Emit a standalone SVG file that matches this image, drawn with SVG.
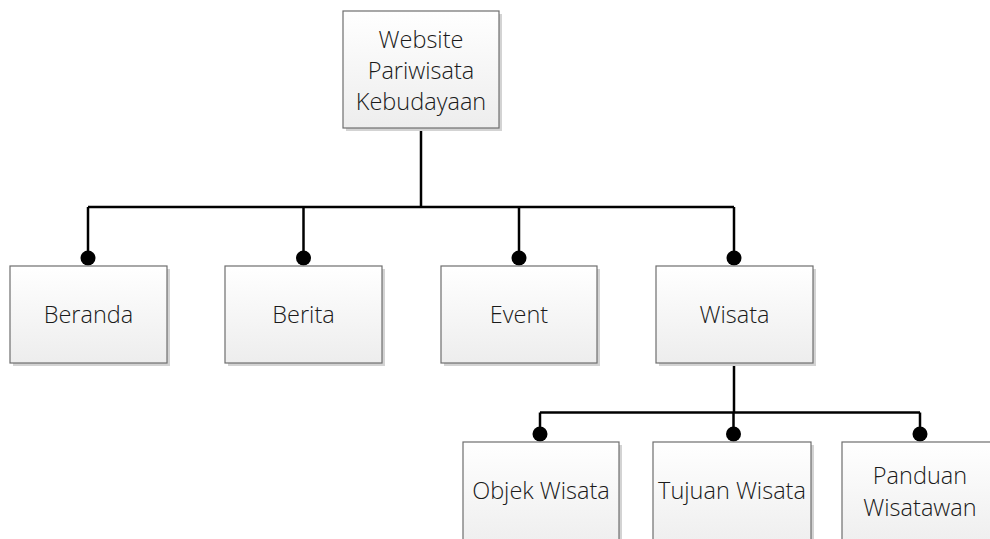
<svg xmlns="http://www.w3.org/2000/svg" width="990" height="539" viewBox="0 0 990 539">
  <defs>
    <linearGradient id="boxFill" x1="0" y1="0" x2="0" y2="1">
      <stop offset="0" stop-color="#ffffff"/>
      <stop offset="1" stop-color="#ededed"/>
    </linearGradient>
    <marker id="dot" viewBox="0 0 16 16" refX="8" refY="8" markerWidth="16" markerHeight="16" markerUnits="userSpaceOnUse">
      <circle cx="8" cy="8" r="7.5" fill="#000"/>
    </marker>
  </defs>
  <style>
    .shadow { fill: #d3d3d3; }
    .box { fill: url(#boxFill); stroke: #6e6e6e; stroke-width: 1.2; }
    .label { font-family: "Open Sans", "Liberation Sans", sans-serif; font-size: 23.5px; font-weight: 300; fill: #1a1a1a; text-anchor: middle; }
    .link { fill: none; stroke: #000; stroke-width: 2.5; stroke-linejoin: miter; }
    .end { marker-end: url(#dot); }
  </style>
  <rect width="990" height="539" fill="#fff"/>

  <g id="connectors">
    <!-- root to first level -->
    <path class="link" d="M421 128 V207"/>
    <path class="link" d="M88 207 H734"/>
    <path class="link end" d="M88 207 V258"/>
    <path class="link end" d="M303.5 207 V258"/>
    <path class="link end" d="M519 207 V258"/>
    <path class="link end" d="M734 207 V258"/>
    <!-- Wisata to its children -->
    <path class="link" d="M734 363 V412.5"/>
    <path class="link" d="M540 412.5 H920"/>
    <path class="link end" d="M540 412.5 V434"/>
    <path class="link end" d="M733.5 412.5 V434"/>
    <path class="link end" d="M920 412.5 V434"/>
  </g>

  <g id="root">
    <rect class="shadow" x="346" y="14" width="156" height="117"/>
    <rect class="box" x="343" y="11" width="156" height="117"/>
    <text class="label" x="421" y="48">Website</text>
    <text class="label" x="421" y="79">Pariwisata</text>
    <text class="label" x="421" y="110">Kebudayaan</text>
  </g>

  <g id="beranda">
    <rect class="shadow" x="13" y="269" width="157" height="97"/>
    <rect class="box" x="10" y="266" width="157" height="97"/>
    <text class="label" x="88.5" y="323">Beranda</text>
  </g>

  <g id="berita">
    <rect class="shadow" x="228" y="269" width="157" height="97"/>
    <rect class="box" x="225" y="266" width="157" height="97"/>
    <text class="label" x="303.5" y="323">Berita</text>
  </g>

  <g id="event">
    <rect class="shadow" x="444" y="269" width="156" height="97"/>
    <rect class="box" x="441" y="266" width="156" height="97"/>
    <text class="label" x="519" y="323">Event</text>
  </g>

  <g id="wisata">
    <rect class="shadow" x="659" y="269" width="157" height="97"/>
    <rect class="box" x="656" y="266" width="157" height="97"/>
    <text class="label" x="734.5" y="323">Wisata</text>
  </g>

  <g id="objek-wisata">
    <rect class="shadow" x="466" y="445" width="156" height="110"/>
    <rect class="box" x="463" y="442" width="156" height="110"/>
    <text class="label" x="541" y="499">Objek Wisata</text>
  </g>

  <g id="tujuan-wisata">
    <rect class="shadow" x="656" y="445" width="158" height="110"/>
    <rect class="box" x="653" y="442" width="158" height="110"/>
    <text class="label" x="732" y="499">Tujuan Wisata</text>
  </g>

  <g id="panduan-wisatawan">
    <rect class="shadow" x="845" y="445" width="156" height="110"/>
    <rect class="box" x="842" y="442" width="156" height="110"/>
    <text class="label" x="920" y="484">Panduan</text>
    <text class="label" x="920" y="516">Wisatawan</text>
  </g>
</svg>
